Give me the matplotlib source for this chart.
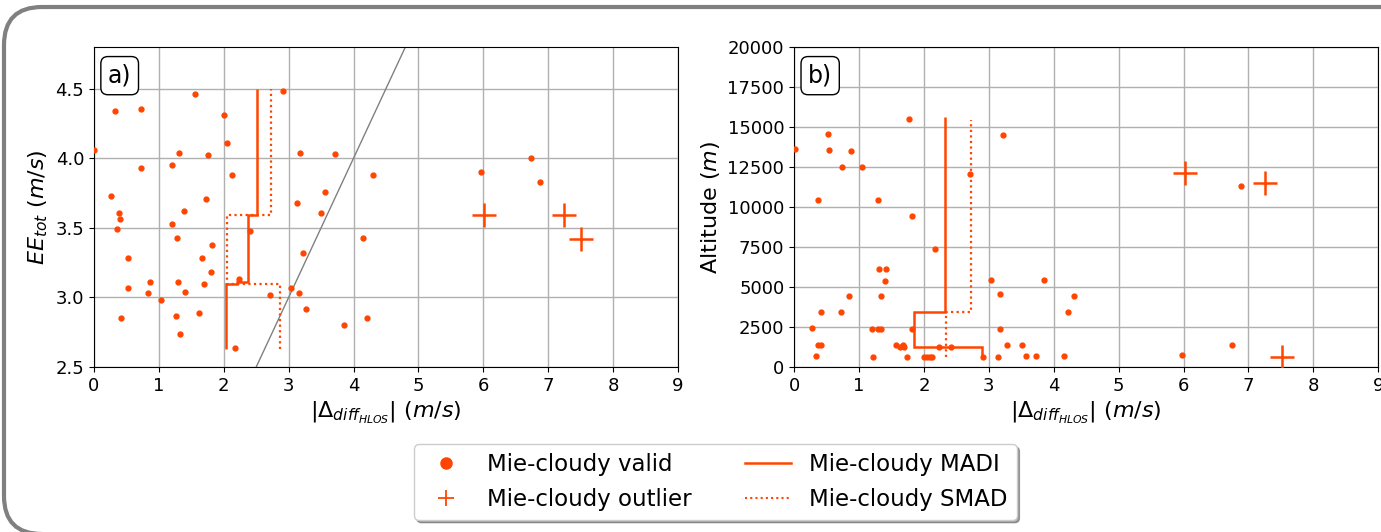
import matplotlib
matplotlib.use("Agg")
import matplotlib.pyplot as plt
from matplotlib.lines import Line2D
from matplotlib.patches import FancyBboxPatch
import numpy as np

# === Dati pannello a) ===
a_valid_x = [0.00, 1.56, 0.32, 0.72, 2.01, 2.91, 2.05, 1.31, 1.76, 3.17, 3.72, 0.73, 1.20,
             2.12, 4.30, 0.26, 1.73, 3.56, 3.13, 0.38, 0.40, 1.39, 3.50, 0.35, 1.20, 2.41,
             1.28, 4.15, 1.82, 3.22, 0.53, 1.67, 1.80, 0.86, 1.30, 1.69, 2.23, 0.52, 1.41,
             0.83, 3.03, 2.71, 3.16, 1.03, 3.27, 0.41, 1.26, 1.62, 4.21, 3.85, 1.33, 2.17,
             5.96, 6.74, 6.87]
a_valid_y = [4.06, 4.46, 4.34, 4.35, 4.31, 4.48, 4.11, 4.04, 4.02, 4.04, 4.03, 3.93, 3.95,
             3.88, 3.88, 3.73, 3.71, 3.76, 3.68, 3.61, 3.56, 3.62, 3.61, 3.49, 3.53, 3.48,
             3.43, 3.43, 3.38, 3.32, 3.28, 3.28, 3.18, 3.11, 3.11, 3.10, 3.13, 3.07, 3.04,
             3.03, 3.07, 3.02, 3.03, 2.98, 2.92, 2.85, 2.87, 2.89, 2.85, 2.80, 2.74, 2.64,
             3.90, 4.00, 3.83]
a_out_x = [6.01, 7.25, 7.50]
a_out_y = [3.59, 3.59, 3.42]

a_madi_edges = [2.63, 3.10, 3.11, 3.59, 4.50]
a_madi_vals = [2.03, 2.20, 2.37, 2.51]
a_smad_edges = [2.63, 3.10, 3.59, 4.50]
a_smad_vals = [2.87, 2.05, 2.73]

# === Dati pannello b) ===
b_valid_x = [0.02, 1.77, 0.53, 3.22, 0.54, 0.87, 0.74, 1.04, 2.71, 0.365, 1.30, 1.82, 2.17,
             1.31, 1.42, 1.40, 3.04, 3.85, 3.17, 0.84, 1.34, 4.31, 0.42, 0.72, 4.22, 0.27,
             1.20, 1.29, 1.34, 1.82, 3.18, 0.365, 0.41, 1.57, 1.63, 1.68, 1.69, 2.24, 2.42,
             3.28, 3.51, 0.34, 1.21, 1.74, 2.00, 2.05, 2.10, 2.13, 2.91, 3.14, 3.57, 3.73,
             4.16, 5.97, 6.75, 6.88]
b_valid_y = [13600, 15520, 14540, 14500, 13540, 13520, 12520, 12520, 12060, 10460, 10460,
             9440, 7400, 6100, 6100, 5350, 5420, 5420, 4580, 4420, 4420, 4420, 3420, 3420,
             3420, 2420, 2400, 2400, 2400, 2375, 2400, 1400, 1400, 1400, 1230, 1400, 1230,
             1230, 1230, 1400, 1400, 710, 650, 650, 650, 650, 650, 650, 650, 650, 710, 710,
             710, 730, 1400, 11330]
b_out_x = [6.02, 7.26, 7.51]
b_out_y = [12100, 11520, 650]

b_madi_edges = [650, 1270, 3420, 15600]
b_madi_vals = [2.90, 1.85, 2.32]
b_smad_edges = [650, 3420, 15400]
b_smad_vals = [2.34, 2.72]

col = '#ff4500'
plt.rcParams['font.size'] = 13

fig = plt.figure(figsize=(13.81, 5.32), dpi=100)
ax1 = fig.add_axes([0.068, 0.310, 0.423, 0.602])
ax2 = fig.add_axes([0.575, 0.310, 0.423, 0.602])

xlab = r'$|\Delta_{diff_{HLOS}}|$ $(m/s)$'

def disegna(ax, vx, vy, ox, oy, me, mv, se, sv):
    ax.plot(vx, vy, 'o', color=col, ms=3.5, zorder=3)
    ax.plot(ox, oy, '+', color=col, ms=17, mew=1.8, zorder=3)
    ax.stairs(mv, me, orientation='horizontal', baseline=None, color=col, lw=1.8, zorder=2)
    ax.stairs(sv, se, orientation='horizontal', baseline=None, color=col, lw=1.6,
              ls=(0, (1, 1.5)), zorder=2)
    ax.set_xlim(0, 9)
    ax.set_xticks(range(10))
    ax.grid(True, color='#b0b0b0', lw=1)
    ax.set_axisbelow(True)
    ax.set_xlabel(xlab, fontsize=16)

disegna(ax1, a_valid_x, a_valid_y, a_out_x, a_out_y, a_madi_edges, a_madi_vals,
        a_smad_edges, a_smad_vals)
ax1.axline((2.5, 2.5), slope=1, color='grey', lw=1, zorder=1)
ax1.set_ylim(2.5, 4.8)
ax1.set_yticks([2.5, 3.0, 3.5, 4.0, 4.5])
ax1.set_ylabel(r'$EE_{tot}$ $(m/s)$', fontsize=16)

disegna(ax2, b_valid_x, b_valid_y, b_out_x, b_out_y, b_madi_edges, b_madi_vals,
        b_smad_edges, b_smad_vals)
ax2.set_ylim(0, 20000)
ax2.set_yticks(range(0, 20001, 2500))
ax2.set_ylabel(r'Altitude $(m)$', fontsize=16)

for ax, lab in [(ax1, 'a)'), (ax2, 'b)')]:
    ax.text(0.024, 0.91, lab, transform=ax.transAxes, fontsize=17, va='center', ha='left',
            bbox=dict(boxstyle='round,pad=0.3', fc='white', ec='black', lw=1))

handles = [
    Line2D([], [], ls='none', marker='o', color=col, ms=8),
    Line2D([], [], ls='none', marker='+', color=col, ms=12, mew=1.3),
    Line2D([], [], color=col, lw=1.8),
    Line2D([], [], color=col, lw=1.5, ls=(0, (1, 1.5))),
]
labels = ['Mie-cloudy valid', 'Mie-cloudy outlier', 'Mie-cloudy MADI', 'Mie-cloudy SMAD']
fig.legend(handles, labels, loc='center', bbox_to_anchor=(0.518, 0.094), ncol=2,
           shadow=True, fontsize=16.5, columnspacing=2.3)

# cornice arrotondata
cornice = FancyBboxPatch((4, -2), 1440, 527, boxstyle='round,pad=0,rounding_size=38',
                         transform=None, fc='none', ec='#808080', lw=3, zorder=10)
fig.patches.append(cornice)

fig.savefig('out.png', dpi=100)
